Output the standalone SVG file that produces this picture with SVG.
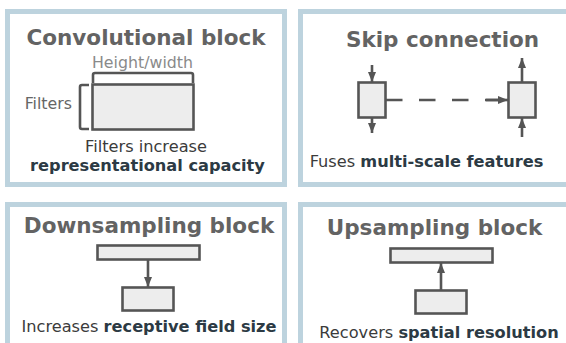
<svg xmlns="http://www.w3.org/2000/svg" width="566" height="343" viewBox="0 0 566 343">
  <style>
    .panel { fill: #ffffff; stroke: #bdd3de; stroke-width: 5; }
    .title { font-family: "DejaVu Sans", sans-serif; font-weight: bold; font-size: 21.5px; fill: #636363; text-anchor: middle; }
    .body { font-family: "DejaVu Sans", sans-serif; font-size: 16.2px; fill: #3b3b3b; }
    .strong { font-weight: bold; fill: #2c3a44; }
    .dim { fill: #8a8a8a; }
    .label { fill: #666666; }
    .box { fill: #ededed; stroke: #555555; stroke-width: 2.6; }
    .wire { fill: none; stroke: #555555; stroke-width: 2.6; }
  </style>
  <defs>
    <marker id="arrow" markerUnits="userSpaceOnUse" markerWidth="10" markerHeight="8" refX="10" refY="4" orient="auto">
      <path d="M0,0 L10,4 L0,8 Z" fill="#555555"/>
    </marker>
  </defs>

  <rect width="566" height="343" fill="#ffffff"/>

  <!-- Convolutional block -->
  <g id="conv-block">
    <rect class="panel" x="7.5" y="11.5" width="277" height="173"/>
    <text class="title" x="146" y="45">Convolutional block</text>
    <text class="body dim" x="142.5" y="68" text-anchor="middle" style="font-size:15.8px">Height/width</text>
    <path class="wire" d="M93,83 V75 Q93,73 95,73 H191 Q193,73 193,75 V83"/>
    <path class="wire" d="M89,85 H82 Q80,85 80,87 V127 Q80,129 82,129 H89"/>
    <rect class="box" x="92.5" y="84.5" width="101" height="45"/>
    <text class="body label" x="72" y="109" text-anchor="end" style="font-size:15.8px">Filters</text>
    <text class="body" x="146" y="152" text-anchor="middle">Filters increase</text>
    <text class="body strong" x="147.5" y="171" text-anchor="middle">representational capacity</text>
  </g>

  <!-- Skip connection -->
  <g id="skip-connection">
    <rect class="panel" x="300.5" y="11.5" width="290" height="173"/>
    <text class="title" x="442.5" y="47">Skip connection</text>
    <rect class="box" x="358.5" y="82.5" width="27" height="35"/>
    <rect class="box" x="508.5" y="82.5" width="27" height="35"/>
    <text class="body" x="426.5" y="167" text-anchor="middle">Fuses <tspan class="strong">multi-scale features</tspan></text>
  </g>

  <!-- Downsampling block -->
  <g id="downsampling-block">
    <rect class="panel" x="7.5" y="204.5" width="277" height="160"/>
    <text class="title" x="149" y="233">Downsampling block</text>
    <rect class="box" x="97.5" y="245.5" width="102" height="14"/>
    <rect class="box" x="122.5" y="287.5" width="51" height="23"/>
    <text class="body" x="149" y="332" text-anchor="middle">Increases <tspan class="strong">receptive field size</tspan></text>
  </g>

  <!-- Upsampling block -->
  <g id="upsampling-block">
    <rect class="panel" x="300.5" y="204.5" width="290" height="160"/>
    <text class="title" x="434.5" y="235">Upsampling block</text>
    <rect class="box" x="390.5" y="248.5" width="102" height="14"/>
    <rect class="box" x="415.5" y="290.5" width="51" height="23"/>
    <text class="body" x="439" y="338" text-anchor="middle">Recovers <tspan class="strong">spatial resolution</tspan></text>
  </g>

  <!-- Connectors -->
  <g id="connectors">
    <line class="wire" x1="372" y1="65" x2="372" y2="82" marker-end="url(#arrow)"/>
    <line class="wire" x1="372" y1="118" x2="372" y2="133" marker-end="url(#arrow)"/>
    <line class="wire" x1="522" y1="82" x2="522" y2="58" marker-end="url(#arrow)"/>
    <line class="wire" x1="522" y1="137" x2="522" y2="118" marker-end="url(#arrow)"/>
    <line class="wire" x1="386" y1="100" x2="500" y2="100" stroke-dasharray="16.5 16.5"/>
    <line class="wire" x1="486" y1="100" x2="508" y2="100" marker-end="url(#arrow)"/>
    <line class="wire" x1="148" y1="260" x2="148" y2="287" marker-end="url(#arrow)"/>
    <line class="wire" x1="441" y1="290" x2="441" y2="263" marker-end="url(#arrow)"/>
  </g>
</svg>
